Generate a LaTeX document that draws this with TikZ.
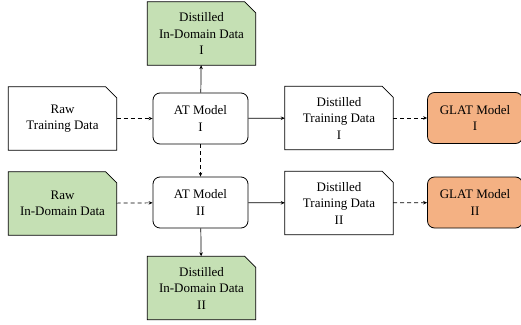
\documentclass[tikz,border=0pt]{standalone}
\usepackage{fontspec}
\setmainfont{Liberation Serif}
\usetikzlibrary{arrows.meta,backgrounds}
\definecolor{domaingreen}{HTML}{C5E0B4}
\definecolor{glatorange}{HTML}{F4B183}
\begin{document}
\begin{tikzpicture}[x=1pt, y=-1pt, line join=round, >={Stealth[length=4pt,width=3.5pt]}, font=\fontsize{13}{16.5}\selectfont,
	data/.style={minimum width=108pt, minimum height=63pt, align=center, inner sep=0pt},
	model/.style={draw, line width=0.8pt, rounded corners=7pt, minimum width=95pt, minimum height=51pt, align=center, inner sep=0pt},
	flow/.style={->, line width=0.7pt},
	dflow/.style={flow, dash pattern=on 4pt off 3pt}]
	\useasboundingbox (0,0) rectangle (521,324);
	% data boxes
	\node[data] (indomtop) at (201.5,33.5) {Distilled\\In-Domain Data\\I};
	\node[data] (rawtd) at (62.5,118.5) {Raw\\Training Data};
	\node[data] (rawid) at (62.5,203.5) {Raw\\In-Domain Data};
	\node[data] (disttd1) at (339,118) {Distilled\\Training Data\\I};
	\node[data] (disttd2) at (339,203) {Distilled\\Training Data\\II};
	\node[data] (indombot) at (201.5,288) {Distilled\\In-Domain Data\\II};
	% models
	\node[model, fill=white] (at1) at (200.5,118.5) {AT Model\\I};
	\node[model, fill=white] (at2) at (200.5,202.5) {AT Model\\II};
	\node[model, fill=glatorange] (glat1) at (475,118) {GLAT Model\\I};
	\node[model, fill=glatorange] (glat2) at (475,202.5) {GLAT Model\\II};
	% folded-corner outlines behind the data boxes
	\begin{scope}[on background layer]
		\foreach \n/\c in {indomtop/domaingreen, rawtd/white, rawid/domaingreen, disttd1/white, disttd2/white, indombot/domaingreen}
			\draw[line width=0.8pt, fill=\c] (\n.south west) -- (\n.north west) -- ([xshift=-11pt]\n.north east) -- ([yshift=-11pt]\n.north east) -- (\n.south east) -- cycle;
	\end{scope}
	% connectors
	\draw[dflow] (rawtd) -- (at1);
	\draw[flow] (at1) -- (disttd1);
	\draw[dflow] (disttd1) -- (glat1);
	\draw[flow] (at1) -- (indomtop);
	\draw[dflow] (at1) -- (at2);
	\draw[dflow] (rawid) -- (at2);
	\draw[flow] (at2) -- (disttd2);
	\draw[dflow] (disttd2) -- (glat2);
	\draw[flow] (at2) -- (indombot);
\end{tikzpicture}
\end{document}
